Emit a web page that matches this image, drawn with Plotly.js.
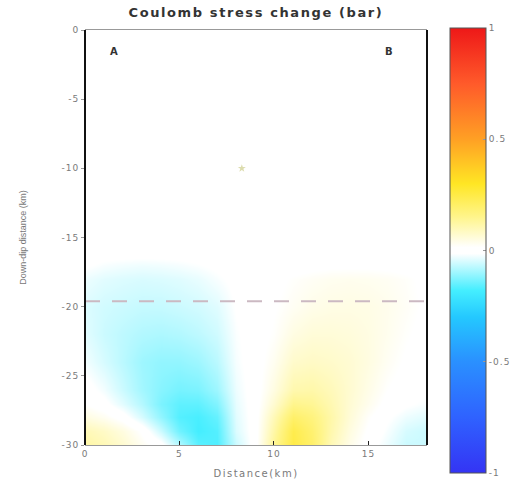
<!DOCTYPE html>
<html>
<head>
<meta charset="utf-8">
<script src="https://cdn.plot.ly/plotly-3.0.1.min.js"></script>
<style>
html,body{margin:0;padding:0;background:#fff;}
#chart{width:515px;height:492px;}
.gtitle{letter-spacing:1.6px;}
.xtitle{letter-spacing:1.5px;}
.xtick text,.ytick text,.cbaxis text{letter-spacing:1px;}
</style>
</head>
<body>
<div id="chart"></div>
<script>
// Distance along profile (km)
var distanceKm = [0,1,2,3,4,5,6,7,8,9,10,11,12,13,14,15,16,17,18];
// Down-dip distance (km, negative downward)
var downDipKm = [0,-12,-16,-17,-18,-20,-22,-24,-26,-27,-28,-29,-30];
// Coulomb stress change (bar), one row per down-dip level
var stressRow0   = [0,0,0,0,0,0,0,0,0,0,0,0,0,0,0,0,0,0,0];
var stressRow12  = [0,0,0,0,0,0,0,0,0,0,0,0,0,0,0,0,0,0,0];
var stressRow16  = [0,0,0,0,0,0,0,0,0,0,0,0,0,0,0,0,0,0,0];
var stressRow17  = [-0.01,-0.02,-0.025,-0.028,-0.026,-0.022,-0.016,-0.008,0,0,0,0,0.005,0.008,0.008,0.008,0.006,0.003,0];
var stressRow18  = [-0.03,-0.04,-0.045,-0.048,-0.046,-0.042,-0.034,-0.02,-0.006,0,0.005,0.018,0.026,0.032,0.034,0.032,0.028,0.02,0.008];
var stressRow20  = [-0.045,-0.055,-0.06,-0.065,-0.065,-0.06,-0.054,-0.042,-0.012,0,0.012,0.028,0.04,0.045,0.046,0.044,0.036,0.024,0.01];
var stressRow22  = [-0.04,-0.06,-0.072,-0.082,-0.086,-0.082,-0.072,-0.056,-0.018,0,0.018,0.048,0.06,0.06,0.056,0.048,0.034,0.018,0.005];
var stressRow24  = [-0.025,-0.05,-0.075,-0.1,-0.11,-0.11,-0.1,-0.075,-0.022,0,0.032,0.075,0.082,0.076,0.066,0.05,0.028,0.01,0];
var stressRow26  = [0,-0.025,-0.06,-0.095,-0.12,-0.135,-0.13,-0.1,-0.03,0,0.05,0.11,0.115,0.095,0.068,0.042,0.015,0,-0.01];
var stressRow27  = [0.015,-0.005,-0.04,-0.08,-0.13,-0.155,-0.155,-0.125,-0.035,0,0.07,0.15,0.14,0.105,0.065,0.035,0.005,-0.01,-0.02];
var stressRow28  = [0.05,0.03,0,-0.05,-0.11,-0.165,-0.175,-0.15,-0.04,0,0.1,0.2,0.17,0.115,0.06,0.02,-0.01,-0.03,-0.04];
var stressRow29  = [0.1,0.08,0.05,0.01,-0.06,-0.14,-0.18,-0.165,-0.045,0,0.12,0.24,0.19,0.11,0.05,0.01,-0.02,-0.05,-0.06];
var stressRow30  = [0.12,0.1,0.07,0.03,0,-0.08,-0.16,-0.17,-0.06,0,0.14,0.25,0.2,0.1,0.04,0,-0.03,-0.06,-0.06];
// Fault-trace depth (dashed line) and hypocentre
var faultDepth = -19.6;
var hypoX = [8.3];
var hypoY = [-10];
// Tick labels
var xTicks = [0,5,10,15];
var xTickText = ['0','5','10','15'];
var yTicks = [0,-5,-10,-15,-20,-25,-30];
var yTickText = ['0','-5','-10','-15','-20','-25','-30'];
var cbTicks = [-1,-0.5,0,0.5,1];
var cbTickText = ['-1','-0.5','0','0.5','1'];

var zGrid = [stressRow0,stressRow12,stressRow16,stressRow17,stressRow18,stressRow20,stressRow22,
             stressRow24,stressRow26,stressRow27,stressRow28,stressRow29,stressRow30];

var colorscale = [
  [0,'#3434f4'],[0.125,'#2f62ff'],[0.25,'#2a90ff'],[0.35,'#24c8ff'],[0.41,'#44eeff'],
  [0.493,'#ffffff'],[0.507,'#ffffff'],
  [0.575,'#fff58c'],[0.65,'#ffe624'],[0.75,'#ffa024'],[0.875,'#ff5a2a'],[1,'#ee1818']
];

var tickFont = {family:'DejaVu Sans, sans-serif', size:9, color:'#7a7a7a'};

var traces = [
  {
    type:'heatmap', x:distanceKm, y:downDipKm, z:zGrid,
    zmin:-1, zmax:1, zsmooth:'best', colorscale:colorscale,
    hoverinfo:'skip',
    colorbar:{
      x:1.067, xanchor:'left', xpad:0, xref:'paper',
      y:1.005, yanchor:'top', ypad:0,
      lenmode:'pixels', len:445, thickness:36,
      outlinewidth:1, outlinecolor:'#555',
      tickvals:cbTicks, ticktext:cbTickText,
      ticks:'inside', ticklen:3, tickcolor:'#999',
      tickfont:tickFont
    }
  },
  {
    type:'scatter', mode:'markers', x:hypoX, y:hypoY,
    marker:{symbol:'star', size:6, color:'rgba(205,205,140,0.7)', line:{width:0}},
    hoverinfo:'skip', showlegend:false
  }
];

var layout = {
  width:515, height:492,
  margin:{l:85, r:88, t:30, b:47, autoexpand:false},
  paper_bgcolor:'#fff', plot_bgcolor:'#fff',
  showlegend:false,
  title:{text:'<b>Coulomb stress change (bar)</b>', x:0.497, xanchor:'center', y:0.974, yanchor:'middle',
         font:{family:'DejaVu Sans, sans-serif', size:13, color:'#333'}},
  xaxis:{
    range:[0,18.1], tickvals:xTicks, ticktext:xTickText, ticks:'inside', ticklen:4, tickcolor:'#222',
    showline:true, linecolor:'#999', linewidth:1, mirror:true,
    showgrid:false, zeroline:false, tickfont:tickFont,
    title:{text:'Distance(km)', standoff:12, font:{family:'DejaVu Sans, sans-serif', size:10, color:'#7a7a7a'}}
  },
  yaxis:{
    range:[-30,0], tickvals:yTicks, ticktext:yTickText, ticks:'outside', ticklen:3, tickcolor:'#999',
    showline:false, showgrid:false, zeroline:false, tickfont:tickFont,
    title:{text:'Down-dip distance (km)', standoff:33, font:{family:'Liberation Sans, sans-serif', size:9, color:'#777'}}
  },
  shapes:[
    {type:'line', xref:'x', yref:'y', x0:0, x1:18, y0:faultDepth, y1:faultDepth,
     line:{color:'#cbb9c2', width:2, dash:'15px,12px'}},
    {type:'line', xref:'paper', yref:'paper', x0:0, x1:0, y0:0, y1:1, line:{color:'#111', width:2}},
    {type:'line', xref:'paper', yref:'paper', x0:1, x1:1, y0:0, y1:1, line:{color:'#111', width:2}}
  ],
  annotations:[
    {text:'<b>A</b>', x:0.067, y:0.967, xref:'paper', yref:'paper', showarrow:false,
     font:{family:'DejaVu Sans, sans-serif', size:10, color:'#333'}},
    {text:'<b>B</b>', x:0.905, y:0.967, xref:'paper', yref:'paper', showarrow:false,
     font:{family:'DejaVu Sans, sans-serif', size:10, color:'#333'}}
  ]
};

Plotly.newPlot('chart', traces, layout, {displayModeBar:false, staticPlot:true});
</script>
</body>
</html>
